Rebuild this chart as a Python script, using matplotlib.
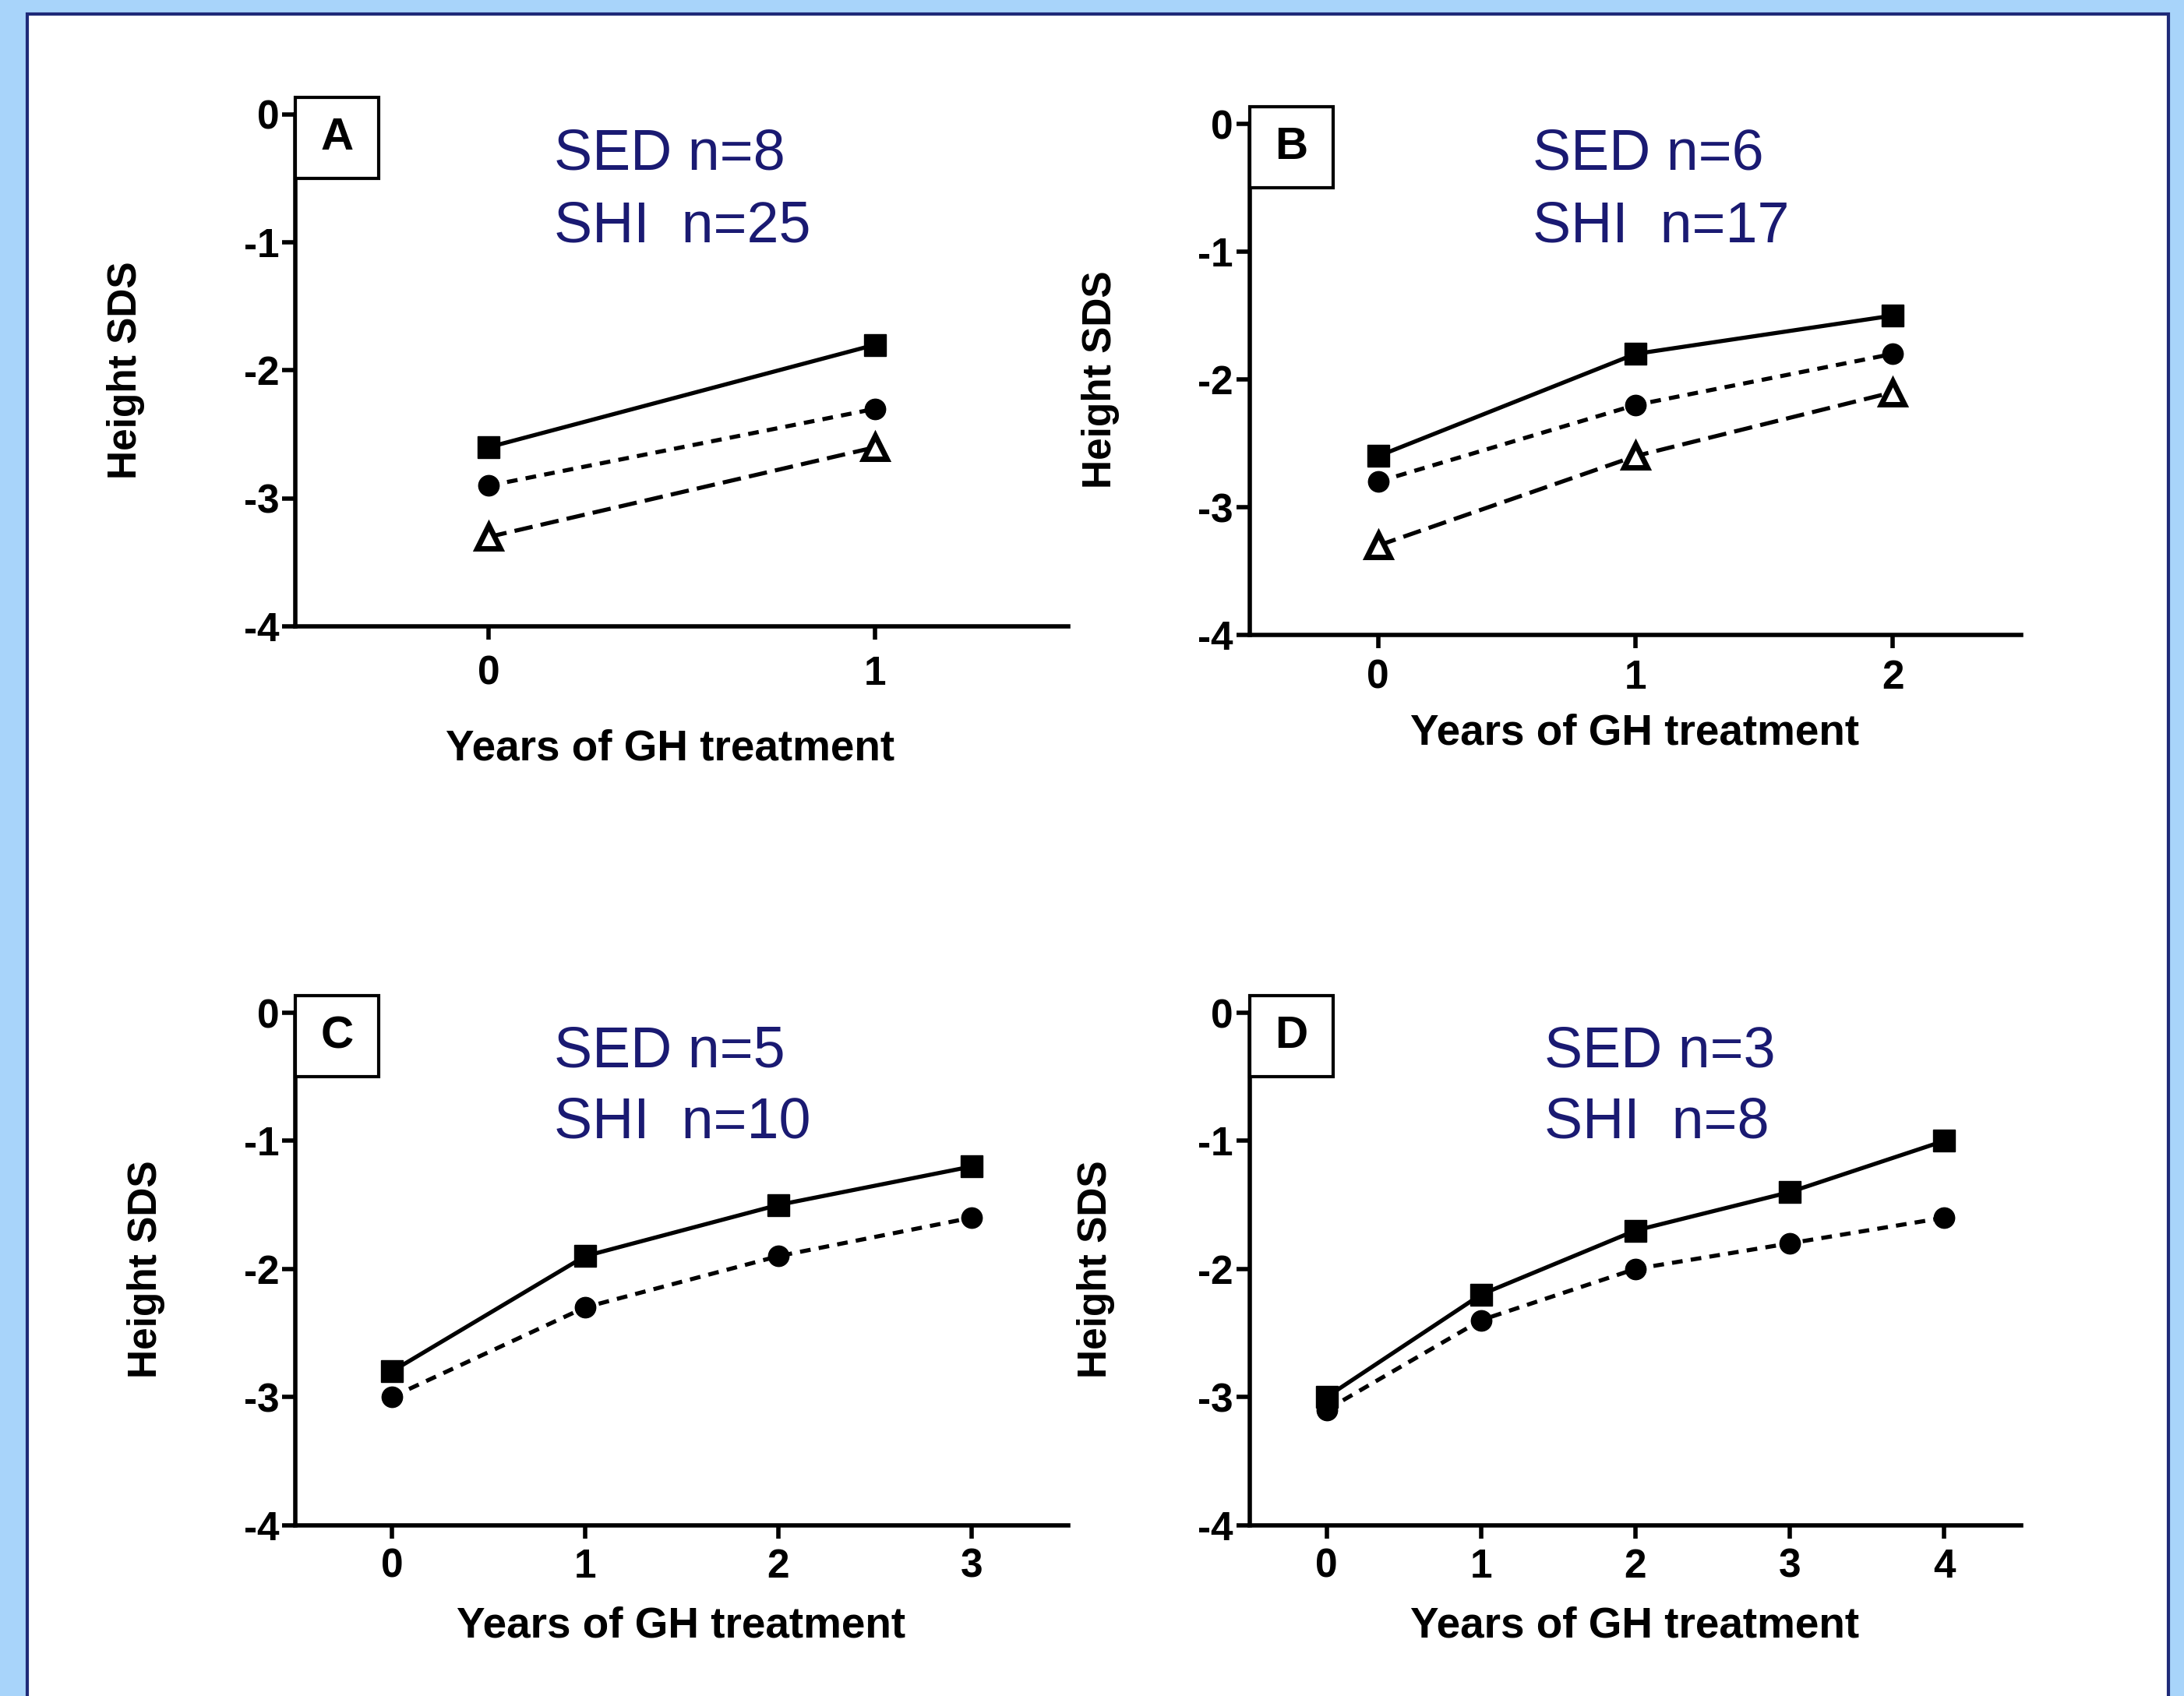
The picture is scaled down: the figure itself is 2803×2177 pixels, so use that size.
import matplotlib
matplotlib.use("Agg")
import matplotlib.pyplot as plt
from matplotlib.patches import Rectangle

plt.rcParams['font.family'] = ['Liberation Sans', 'DejaVu Sans']

# data
years_a = [0, 1]
sq_a = [-2.6, -1.8]
ci_a = [-2.9, -2.3]
tr_a = [-3.3, -2.6]

years_b = [0, 1, 2]
sq_b = [-2.6, -1.8, -1.5]
ci_b = [-2.8, -2.2, -1.8]
tr_b = [-3.3, -2.6, -2.1]

years_c = [0, 1, 2, 3]
sq_c = [-2.8, -1.9, -1.5, -1.2]
ci_c = [-3.0, -2.3, -1.9, -1.6]

years_d = [0, 1, 2, 3, 4]
sq_d = [-3.0, -2.2, -1.7, -1.4, -1.0]
ci_d = [-3.1, -2.4, -2.0, -1.8, -1.6]

letters = ["A", "B", "C", "D"]
sed_text = ["SED n=8", "SED n=6", "SED n=5", "SED n=3"]
shi_text = ["SHI  n=25", "SHI  n=17", "SHI  n=10", "SHI  n=8"]
yticks = [0, -1, -2, -3, -4]

NAVY = "#1a1a72"
LW = 3.8
TICKFONT = ['Liberation Sans Narrow', 'Liberation Sans', 'DejaVu Sans']

fig = plt.figure(figsize=(28.03, 21.77), dpi=100, facecolor="#a8d4fa")
fig.patches.append(Rectangle((0.0125, -0.02), 0.9805, 1.0117, transform=fig.transFigure,
                             facecolor="white", edgecolor="#1f2a78", lw=3, zorder=-10))

# per panel layout: axes rect, text x, text ys, xlabel pos, ylabel x, x tick pad
layout = [
    dict(rect=[0.1352, 0.6305, 0.3539, 0.3022], tx=0.335, ty=(0.921, 0.780), xl=(0.485, -0.200), yl=-0.195, xp=14),
    dict(rect=[0.5721, 0.6256, 0.3534, 0.3013], tx=0.367, ty=(0.940, 0.799), xl=(0.499, -0.153), yl=-0.168, xp=10),
    dict(rect=[0.1352, 0.1008, 0.3539, 0.3020], tx=0.335, ty=(0.924, 0.785), xl=(0.499, -0.158), yl=-0.168, xp=9),
    dict(rect=[0.5721, 0.1008, 0.3534, 0.3020], tx=0.382, ty=(0.924, 0.785), xl=(0.499, -0.158), yl=-0.174, xp=9),
]

series = [
    (years_a, sq_a, ci_a, tr_a),
    (years_b, sq_b, ci_b, tr_b),
    (years_c, sq_c, ci_c, None),
    (years_d, sq_d, ci_d, None),
]

for i, (yrs, sq, ci, tr) in enumerate(series):
    L = layout[i]
    ax = fig.add_axes(L["rect"])
    ax.set_facecolor("none")
    if tr is not None:
        ax.plot(yrs, tr, color="black", lw=LW, dashes=(4.5, 2), marker="^", ms=21,
                mfc="white", mec="black", mew=5, zorder=3)
    ax.plot(yrs, ci, color="black", lw=LW, dashes=(2.6, 2), marker="o", ms=19,
            mfc="black", mec="black", zorder=4)
    ax.plot(yrs, sq, color="black", lw=LW, ls="-", marker="s", ms=20,
            mfc="black", mec="black", zorder=5)

    ax.set_xlim(-0.5, len(yrs) - 0.5)
    ax.set_ylim(-4, 0)
    ax.set_xticks(yrs)
    ax.set_yticks(yticks)
    ax.set_yticklabels([str(t) for t in yticks])
    for s in ["top", "right"]:
        ax.spines[s].set_visible(False)
    for s in ["left", "bottom"]:
        ax.spines[s].set_linewidth(4)
    ax.tick_params(direction="out", length=12, width=4, labelsize=37, pad=3)
    ax.tick_params(axis="x", pad=L["xp"])
    for lab in ax.get_xticklabels() + ax.get_yticklabels():
        lab.set_fontweight("bold")
        lab.set_family(TICKFONT)

    ax.set_xlabel("Years of GH treatment", fontsize=39.5, fontweight="bold")
    ax.xaxis.set_label_coords(*L["xl"])
    ax.set_ylabel("Height SDS", fontsize=37, fontweight="bold")
    ax.yaxis.set_label_coords(L["yl"], 0.5)

    # panel letter box
    ax.add_patch(Rectangle((0, 0.875), 0.108, 0.158, transform=ax.transAxes,
                           facecolor="white", edgecolor="black", lw=3, clip_on=False, zorder=6))
    ax.text(0.054, 0.954, letters[i], transform=ax.transAxes, ha="center", va="center",
            fontsize=42, fontweight="bold", zorder=7)

    ax.text(L["tx"], L["ty"][0], sed_text[i], transform=ax.transAxes, ha="left", va="center",
            fontsize=53, color=NAVY)
    ax.text(L["tx"], L["ty"][1], shi_text[i], transform=ax.transAxes, ha="left", va="center",
            fontsize=53, color=NAVY)

fig.savefig("out.png", dpi=100, facecolor=fig.get_facecolor())
